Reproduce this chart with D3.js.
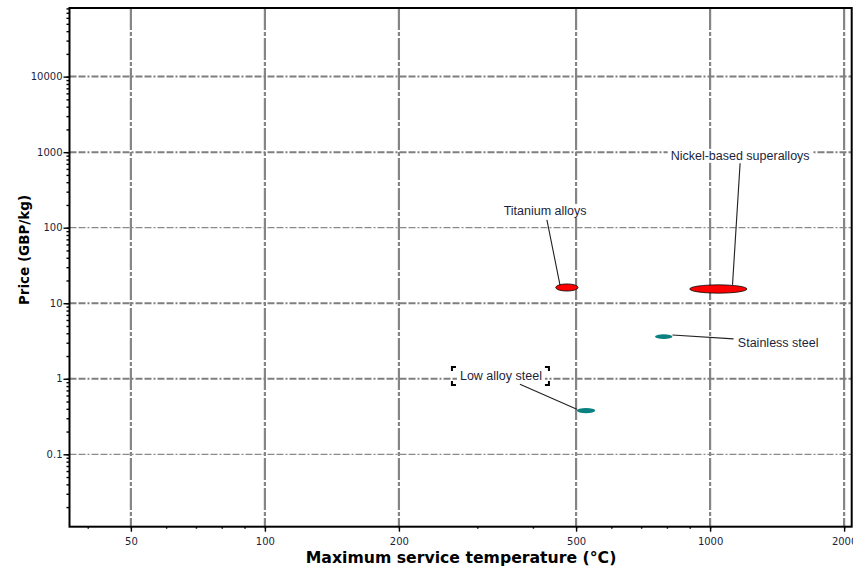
<!DOCTYPE html>
<html>
<head>
<meta charset="utf-8">
<script src="https://cdn.jsdelivr.net/npm/d3@7"></script>
<style>
  html, body { margin: 0; padding: 0; background: #fff; }
  svg { display: block; }
</style>
</head>
<body>
<svg id="chart" width="853" height="567"></svg>
<script>
// ---- data ----
const materials = ["Titanium alloys", "Nickel-based superalloys", "Stainless steel", "Low alloy steel"];
const tempMin  = [450, 900, 752, 502];   // °C
const tempMax  = [505, 1210, 823, 552];
const priceMin = [14.5, 13.6, 3.37, 0.35]; // GBP/kg
const priceMax = [18.0, 17.5, 3.88, 0.41];
const family   = ["metal-nonferrous", "metal-nonferrous", "metal-ferrous", "metal-ferrous"];

// annotation label anchors and leader-line ends (data coordinates)
const labelT     = [426, 1168, 1422, 339];
const labelP     = [167, 893, 2.98, 1.09];
const leaderT0   = [430, 1168, 823, 374];
const leaderP0   = [127, 715, 3.8, 0.846];
const leaderT1   = [460, 1123, 1129, 502];
const leaderP1   = [17.5, 17.5, 3.37, 0.394];

const xTicks = [50, 100, 200, 500, 1000, 2000];
const yTicks = [0.1, 1, 10, 100, 1000, 10000];
const xDomain = [36.4, 2080];
const yDomain = [0.011, 81000];

(function () {
// ---- layout ----
const svg = d3.select("#chart");
const pLeft = 69.5, pRight = 851.7, pTop = 8, pBottom = 526.7;
const x = d3.scaleLog().domain(xDomain).range([pLeft, pRight]);
const y = d3.scaleLog().domain(yDomain).range([pBottom, pTop]);

const colors = { "metal-nonferrous": "#ff0000", "metal-ferrous": "#0b8080" };
const textColor = "#1c1f3d";

// ---- grid ----
const grid = svg.append("g");
xTicks.forEach(t => {
  grid.append("line")
    .attr("x1", x(t)).attr("x2", x(t)).attr("y1", pTop).attr("y2", pBottom)
    .attr("stroke", "#858585").attr("stroke-width", 2.2)
    .attr("stroke-dasharray", "22,2,4,2");
});
const heavy = new Set([10000, 1000, 10, 1]);
yTicks.forEach(t => {
  grid.append("line")
    .attr("x1", pLeft).attr("x2", pRight).attr("y1", y(t)).attr("y2", y(t))
    .attr("stroke", heavy.has(t) ? "#7f7f7f" : "#8a8a8a")
    .attr("stroke-width", heavy.has(t) ? 2 : 1.3)
    .attr("stroke-dasharray", "7,2,7,2,2,2");
});

// ---- axes ----
const fmt = d => (d < 1 ? String(d) : d3.format("d")(d));
const yMinor = [];
for (let e = -2; e <= 4; e++) for (let m = 1; m <= 9; m++) {
  const v = m * Math.pow(10, e);
  if (v >= yDomain[0] && v <= yDomain[1]) yMinor.push(v);
}
const xMinor = [];
for (let e = 1; e <= 3; e++) for (let m = 1; m <= 9; m++) {
  const v = m * Math.pow(10, e);
  if (v >= xDomain[0] && v <= xDomain[1]) xMinor.push(v);
}

const yAxisMinor = d3.axisLeft(y).tickValues(yMinor).tickSize(3).tickFormat("");
const yAxisMajor = d3.axisLeft(y).tickValues(yTicks).tickSize(6).tickPadding(1).tickFormat(fmt);
const xAxisMinor = d3.axisBottom(x).tickValues(xMinor).tickSize(2).tickFormat("");
const xAxisMajor = d3.axisBottom(x).tickValues(xTicks).tickSize(5).tickPadding(6).tickFormat(fmt);

function styleAxis(g) {
  g.select(".domain").remove();
  g.selectAll(".tick line").attr("stroke", "#000").attr("stroke-width", 1.4);
  g.selectAll(".tick text").attr("fill", textColor)
    .style("font-family", "'DejaVu Sans', Verdana, sans-serif").style("font-size", "10px");
}
svg.append("g").attr("transform", `translate(${pLeft},0)`).call(yAxisMinor).call(styleAxis);
svg.append("g").attr("transform", `translate(${pLeft},0)`).call(yAxisMajor).call(styleAxis);
svg.append("g").attr("transform", `translate(0,${pBottom})`).call(xAxisMinor).call(styleAxis);
svg.append("g").attr("transform", `translate(0,${pBottom})`).call(xAxisMajor).call(styleAxis);

// frame
svg.append("rect")
  .attr("x", pLeft).attr("y", pTop).attr("width", pRight - pLeft).attr("height", pBottom - pTop)
  .attr("fill", "none").attr("stroke", "#000").attr("stroke-width", 2);

// axis titles
svg.append("text")
  .attr("x", 461).attr("y", 563).attr("text-anchor", "middle")
  .style("font-family", "'DejaVu Sans', Verdana, sans-serif").style("font-weight", "bold").style("font-size", "15.7px")
  .attr("fill", "#000").text("Maximum service temperature (°C)");
svg.append("text")
  .attr("transform", `translate(29,250) rotate(-90)`).attr("text-anchor", "middle")
  .style("font-family", "'DejaVu Sans', Verdana, sans-serif").style("font-weight", "bold").style("font-size", "13.5px")
  .attr("fill", "#000").text("Price (GBP/kg)");

// ---- leader lines ----
const marks = svg.append("g");
materials.forEach((m, i) => {
  marks.append("line")
    .attr("x1", x(leaderT0[i])).attr("y1", y(leaderP0[i]))
    .attr("x2", x(leaderT1[i])).attr("y2", y(leaderP1[i]))
    .attr("stroke", "#222").attr("stroke-width", 1.1);
});

// ---- ellipses ----
materials.forEach((m, i) => {
  const x0 = x(tempMin[i]), x1 = x(tempMax[i]);
  const y0 = y(priceMax[i]), y1 = y(priceMin[i]);
  const isRed = family[i] === "metal-nonferrous";
  marks.append("ellipse")
    .attr("cx", (x0 + x1) / 2).attr("cy", (y0 + y1) / 2)
    .attr("rx", (x1 - x0) / 2).attr("ry", (y1 - y0) / 2)
    .attr("fill", colors[family[i]])
    .attr("stroke", isRed ? "#000" : "none")
    .attr("stroke-width", 0.8);
});

// ---- labels ----
const labels = svg.append("g");
materials.forEach((m, i) => {
  const g = labels.append("g");
  const t = g.append("text")
    .attr("x", x(labelT[i])).attr("y", y(labelP[i]))
    .attr("text-anchor", "middle").attr("dominant-baseline", "central")
    .style("font-family", "'Liberation Sans', Arial, sans-serif").style("font-size", "12.5px")
    .attr("fill", textColor).text(m);
  const b = t.node().getBBox();
  g.insert("rect", "text")
    .attr("x", b.x - 3).attr("y", b.y).attr("width", b.width + 6).attr("height", b.height)
    .attr("fill", "#fff");
  if (m === "Low alloy steel") {
    const bx0 = b.x - 8, bx1 = b.x + b.width + 7, by0 = b.y - 2, by1 = b.y + b.height + 2;
    const L = 4;
    const path = [
      `M${bx0},${by0 + L}V${by0}H${bx0 + L}`,
      `M${bx1 - L},${by0}H${bx1}V${by0 + L}`,
      `M${bx0},${by1 - L}V${by1}H${bx0 + L}`,
      `M${bx1 - L},${by1}H${bx1}V${by1 - L}`
    ].join("");
    g.append("path").attr("d", path).attr("fill", "none").attr("stroke", "#000").attr("stroke-width", 2);
  }
});
})();
</script>
</body>
</html>
